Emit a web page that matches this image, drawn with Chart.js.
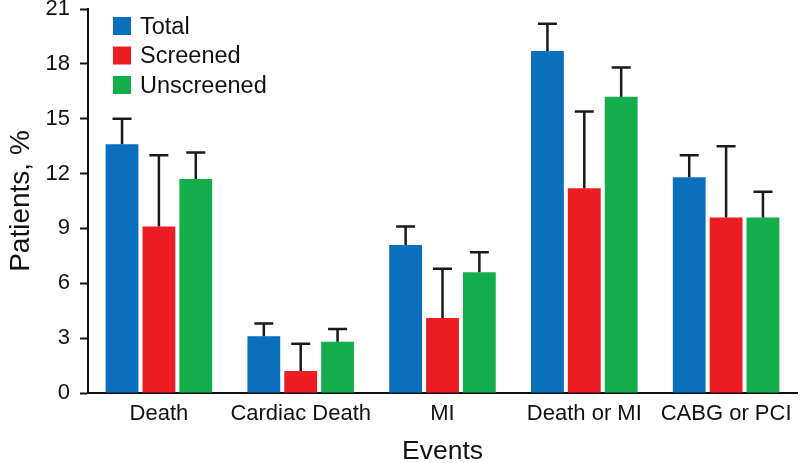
<!DOCTYPE html>
<html>
<head>
<meta charset="utf-8">
<script src="https://cdn.jsdelivr.net/npm/chart.js@4.4.1/dist/chart.umd.min.js"></script>
<style>
  html, body { margin: 0; padding: 0; background: #fff; }
  #wrap { width: 800px; height: 463px; }
</style>
</head>
<body>
<div id="wrap"><canvas id="chart" width="800" height="463"></canvas></div>
<script>
// Datos
const categories = ['Death', 'Cardiac Death', 'MI', 'Death or MI', 'CABG or PCI'];
const total = [13.6, 3.1, 8.1, 18.7, 11.8];
const screened = [9.1, 1.2, 4.1, 11.2, 9.6];
const unscreened = [11.7, 2.8, 6.6, 16.2, 9.6];
// Extremo superior de cada barra de error
const totalUpper = [15.0, 3.8, 9.1, 20.2, 13.0];
const screenedUpper = [13.0, 2.7, 6.8, 15.4, 13.5];
const unscreenedUpper = [13.15, 3.5, 7.7, 17.8, 11.0];
const yTicks = [0, 3, 6, 9, 12, 15, 18, 21];

const FONT = "'Liberation Sans', Arial, Helvetica, sans-serif";
Chart.defaults.font.family = FONT;
Chart.defaults.color = '#111';

// Barras de error (solo hacia arriba)
const errorBars = {
  id: 'errorBars',
  afterDatasetsDraw(chart) {
    const ctx = chart.ctx;
    const y = chart.scales.y;
    ctx.save();
    ctx.strokeStyle = '#1a1a1a';
    ctx.lineWidth = 2.5;
    chart.data.datasets.forEach((ds, i) => {
      const meta = chart.getDatasetMeta(i);
      meta.data.forEach((bar, j) => {
        const top = y.getPixelForValue(ds.upper[j]);
        ctx.beginPath();
        ctx.moveTo(bar.x, bar.y);
        ctx.lineTo(bar.x, top);
        ctx.moveTo(bar.x - 9.5, top);
        ctx.lineTo(bar.x + 9.5, top);
        ctx.stroke();
      });
    });
    ctx.restore();
  }
};

// Leyenda dentro del área del gráfico
const insideLegend = {
  id: 'insideLegend',
  afterDraw(chart) {
    const ctx = chart.ctx;
    ctx.save();
    ctx.font = '23.5px ' + FONT;
    ctx.textBaseline = 'middle';
    chart.data.datasets.forEach((ds, i) => {
      const cy = 26 + i * 29.5;
      ctx.fillStyle = ds.backgroundColor;
      ctx.fillRect(113, cy - 9, 18, 18);
      ctx.fillStyle = '#111';
      ctx.fillText(ds.label, 140, cy + 1.5);
    });
    ctx.restore();
  }
};

const config = {
  type: 'bar',
  data: {
    labels: categories,
    datasets: [
      { label: 'Total', data: total, upper: totalUpper, backgroundColor: '#0a6fbd' },
      { label: 'Screened', data: screened, upper: screenedUpper, backgroundColor: '#ec1c24' },
      { label: 'Unscreened', data: unscreened, upper: unscreenedUpper, backgroundColor: '#13ae4b' }
    ]
  },
  options: {
    responsive: false,
    animation: false,
    layout: { padding: { top: 9, right: 3, left: 0, bottom: 0 } },
    datasets: {
      bar: { categoryPercentage: 0.78, barPercentage: 0.89, borderWidth: 0 }
    },
    plugins: {
      legend: { display: false },
      tooltip: { enabled: false }
    },
    scales: {
      x: {
        grid: { display: false, drawTicks: false },
        border: { display: true, color: '#111', width: 2 },
        ticks: { font: { size: 22 }, color: '#111', padding: 8, maxRotation: 0, minRotation: 0, autoSkip: false },
        title: { display: true, text: 'Events', font: { size: 26.5 }, color: '#111', padding: { top: 4, bottom: -5 } },
        afterFit(scale) { scale.height = 70; }
      },
      y: {
        min: 0,
        max: 21,
        afterBuildTicks(scale) { scale.ticks = yTicks.map(v => ({ value: v })); },
        grid: { drawOnChartArea: false, drawTicks: true, tickLength: 8, tickColor: '#111', tickWidth: 2 },
        border: { display: true, color: '#111', width: 2 },
        ticks: { font: { size: 22 }, color: '#111', padding: 10 },
        title: { display: true, text: 'Patients, %', font: { size: 28 }, color: '#111', padding: { bottom: 2 } },
        afterFit(scale) { scale.width = 88; scale.paddingTop = 0; }
      }
    }
  },
  plugins: [errorBars, insideLegend]
};

new Chart(document.getElementById('chart'), config);
</script>
</body>
</html>
